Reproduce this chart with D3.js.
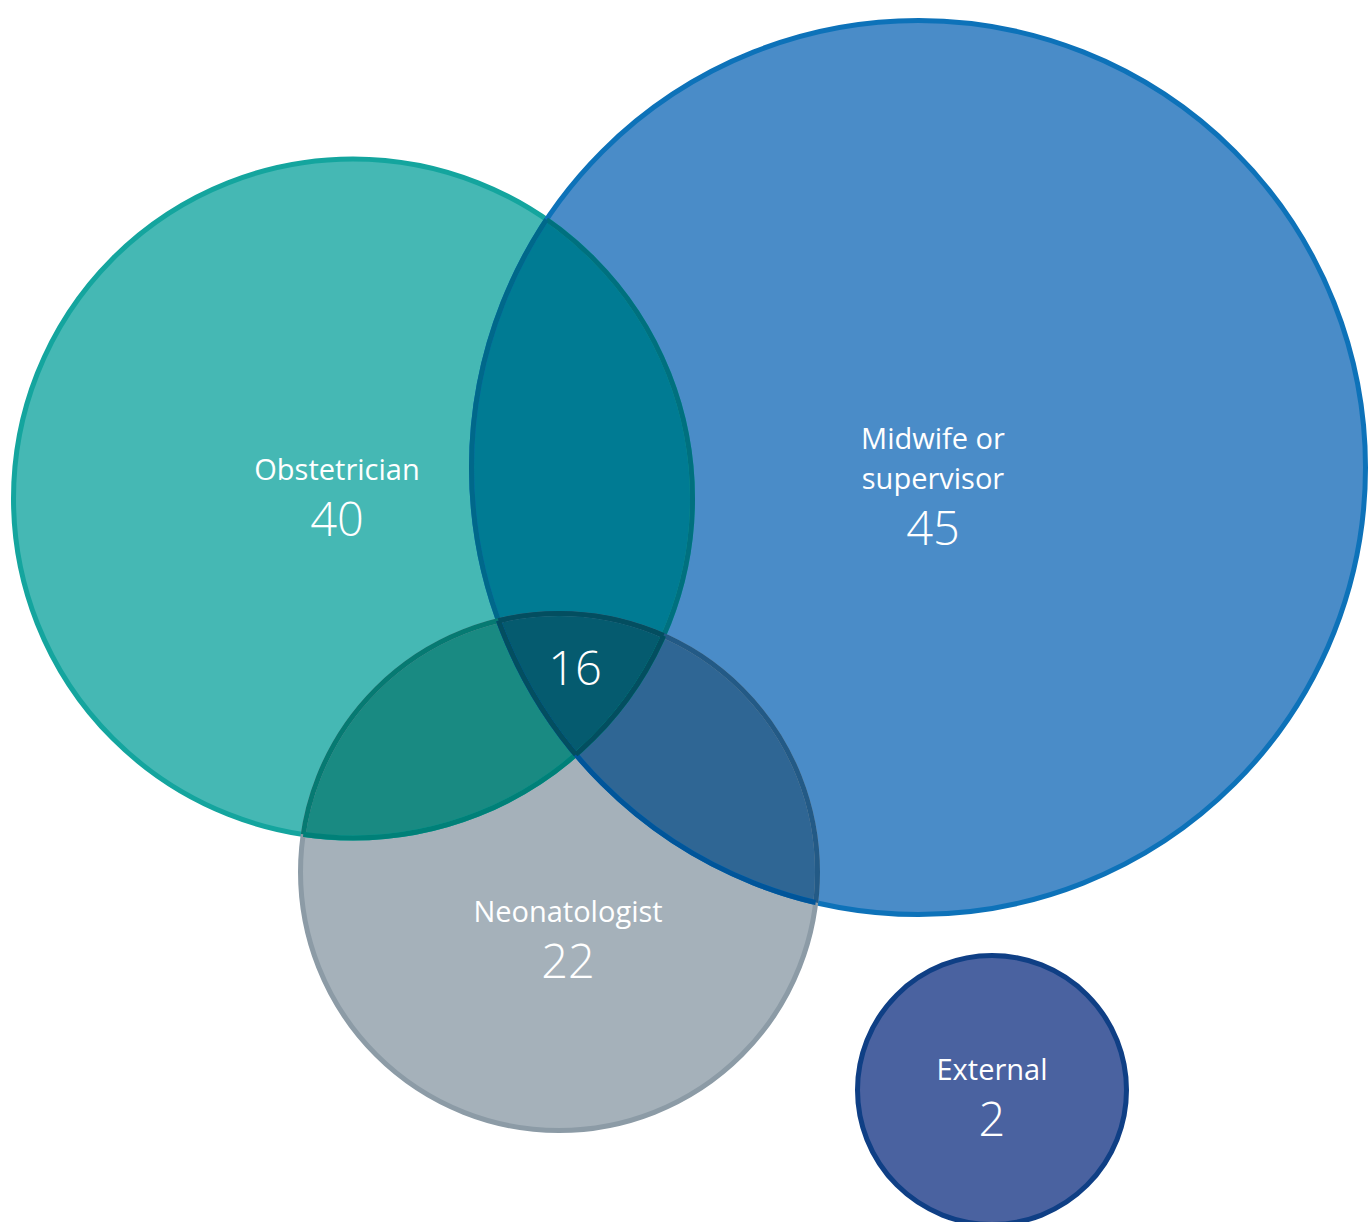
<!DOCTYPE html>
<html>
<head>
<meta charset="utf-8">
<script src="https://cdn.jsdelivr.net/npm/d3@7"></script>
<style>
  html, body { margin: 0; padding: 0; background: #ffffff; }
  svg { display: block; }
  text { font-family: "Open Sans", "Noto Sans", sans-serif; fill: #ffffff; }
</style>
</head>
<body>
<svg id="chart" width="1368" height="1222"></svg>
<script>
// ---- data ----
const categories = ["Obstetrician", "Midwife or supervisor", "Neonatologist", "External"];
const values = [40, 45, 22, 2];
const labelLines = [["Obstetrician"], ["Midwife or", "supervisor"], ["Neonatologist"], ["External"]];
const intersectionSets = [["Obstetrician", "Midwife or supervisor", "Neonatologist"]];
const intersectionValues = [16];

// ---- layout (positions / sizes) ----
const layout = {
  "Obstetrician":          { cx: 353, cy: 498.5, r: 339.5, lx: 337, ly: 480 },
  "Midwife or supervisor": { cx: 918.5, cy: 467.5, r: 447,  lx: 933, ly: 449 },
  "Neonatologist":         { cx: 559, cy: 872,   r: 258.5, lx: 568, ly: 922 },
  "External":              { cx: 992, cy: 1090,  r: 134.5, lx: 992, ly: 1080 }
};
const interLabelPos = [{ x: 575, y: 685 }];

// ---- styles ----
const fills   = { "Obstetrician": "#45b8b4", "Midwife or supervisor": "#4a8cc8", "Neonatologist": "#a5b1ba", "External": "#4a62a0" };
const strokes = { "Obstetrician": "#14a59e", "Midwife or supervisor": "#0d72b9", "Neonatologist": "#8c9ba6", "External": "#0f3f85" };
const pairFill = {
  "Obstetrician|Midwife or supervisor": "#007b93",
  "Obstetrician|Neonatologist": "#198a82",
  "Midwife or supervisor|Neonatologist": "#2f6694"
};
const tripleFill = "#055b6f";
// stroke colour of circle A where it lies inside circle B
const strokeInside = {
  "Obstetrician|Midwife or supervisor": "#00707f",
  "Midwife or supervisor|Obstetrician": "#00688a",
  "Neonatologist|Obstetrician": "#067a72",
  "Neonatologist|Midwife or supervisor": "#235a86",
  "Obstetrician|Neonatologist": "#008078",
  "Midwife or supervisor|Neonatologist": "#00559a"
};
const strokeTriple = "#034e60";
const SW = 5;

const svg = d3.select("#chart");
const defs = svg.append("defs");
const idOf = n => "c" + categories.indexOf(n);

const circles = categories.map((c, i) => ({ name: c, value: values[i], lines: labelLines[i], ...layout[c] }));

// clip paths, one per circle
circles.forEach(d => {
  defs.append("clipPath").attr("id", "clip-" + idOf(d.name))
    .append("circle").attr("cx", d.cx).attr("cy", d.cy).attr("r", d.r);
});

// base fills
svg.append("g").selectAll("circle").data(circles).join("circle")
  .attr("cx", d => d.cx).attr("cy", d => d.cy).attr("r", d => d.r)
  .attr("fill", d => fills[d.name]);

const byName = Object.fromEntries(circles.map(d => [d.name, d]));

// pairwise intersections
Object.entries(pairFill).forEach(([key, col]) => {
  const [a, b] = key.split("|");
  const B = byName[b];
  svg.append("g").attr("clip-path", `url(#clip-${idOf(a)})`)
    .append("circle").attr("cx", B.cx).attr("cy", B.cy).attr("r", B.r).attr("fill", col);
});

// triple intersection
intersectionSets.forEach(set => {
  const [a, b, c] = set;
  const C = byName[c];
  svg.append("g").attr("clip-path", `url(#clip-${idOf(a)})`)
    .append("g").attr("clip-path", `url(#clip-${idOf(b)})`)
    .append("circle").attr("cx", C.cx).attr("cy", C.cy).attr("r", C.r).attr("fill", tripleFill);
});

// outlines
svg.append("g").selectAll("circle").data(circles).join("circle")
  .attr("cx", d => d.cx).attr("cy", d => d.cy).attr("r", d => d.r)
  .attr("fill", "none").attr("stroke", d => strokes[d.name]).attr("stroke-width", SW);

// darker outlines where a circle's edge lies inside another circle
Object.entries(strokeInside).forEach(([key, col]) => {
  const [a, b] = key.split("|");
  const A = byName[a];
  svg.append("g").attr("clip-path", `url(#clip-${idOf(b)})`)
    .append("circle").attr("cx", A.cx).attr("cy", A.cy).attr("r", A.r)
    .attr("fill", "none").attr("stroke", col).attr("stroke-width", SW);
});
// outlines inside the triple region
intersectionSets.forEach(set => {
  set.forEach(a => {
    const others = set.filter(s => s !== a);
    const A = byName[a];
    svg.append("g").attr("clip-path", `url(#clip-${idOf(others[0])})`)
      .append("g").attr("clip-path", `url(#clip-${idOf(others[1])})`)
      .append("circle").attr("cx", A.cx).attr("cy", A.cy).attr("r", A.r)
      .attr("fill", "none").attr("stroke", strokeTriple).attr("stroke-width", SW);
  });
});

// labels
const lg = svg.append("g").attr("text-anchor", "middle");
circles.forEach(d => {
  d.lines.forEach((ln, k) => {
    lg.append("text").attr("x", d.lx).attr("y", d.ly + k * 40)
      .attr("font-size", 29).attr("font-weight", 400).text(ln);
  });
  lg.append("text").attr("x", d.lx).attr("y", d.ly + (d.lines.length - 1) * 40 + 56)
    .attr("font-size", 47).attr("font-weight", 300).text(d.value);
});
intersectionValues.forEach((v, i) => {
  lg.append("text").attr("x", interLabelPos[i].x).attr("y", interLabelPos[i].y)
    .attr("font-size", 47).attr("font-weight", 300).text(v);
});
</script>
</body>
</html>
